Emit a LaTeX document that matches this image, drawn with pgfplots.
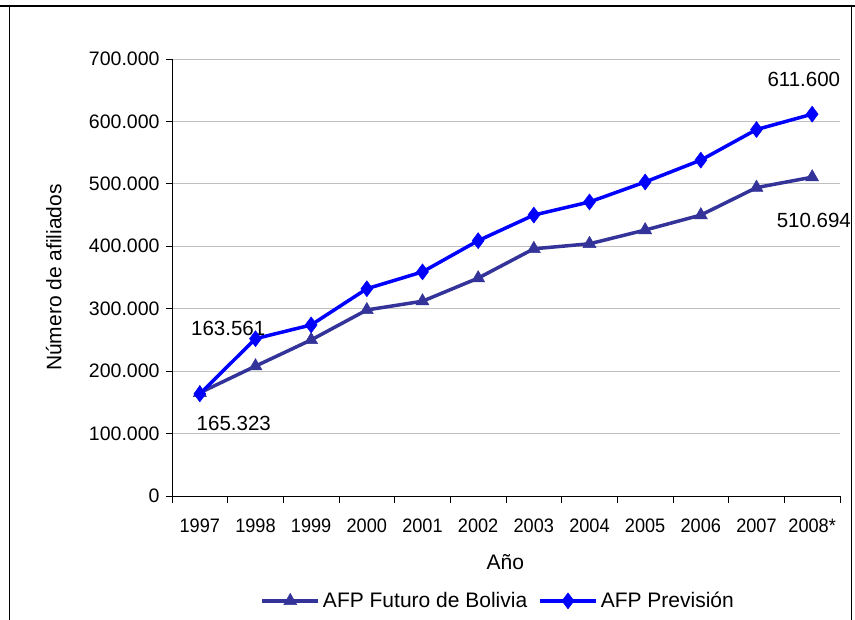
\documentclass[border=0pt]{standalone}
\usepackage{pgfplots}
\pgfplotsset{compat=1.18}
\usepackage{fontspec}
\setmainfont{Liberation Sans}
\newfontfamily\xtfont{Liberation Sans}[FakeStretch=0.93]
\definecolor{futuro}{RGB}{51,51,153}
\definecolor{prev}{RGB}{0,0,255}
\definecolor{gridc}{RGB}{192,192,192}
\begin{document}
\begin{tikzpicture}[x=1pt,y=1pt]
\useasboundingbox (0,0) rectangle (855,620);
\draw[line width=1.2pt] (0,614) -- (855,614);
\draw[line width=0.8pt] (9,614) -- (9,-5);
\draw[line width=0.8pt] (851,614) -- (851,-5);
\begin{axis}[
  at={(172pt,124pt)}, anchor=south west,
  scale only axis, width=668pt, height=437pt,
  xmin=-0.5, xmax=11.5, ymin=0, ymax=700000,
  scaled y ticks=false,
  axis x line*=bottom, axis y line*=left,
  axis line style={black, line width=0.8pt},
  xtick={0,...,11},
  xticklabels={1997,1998,1999,2000,2001,2002,2003,2004,2005,2006,2007,2008*},
  minor xtick={-0.5,0.5,...,11.5},
  major x tick style={draw=none},
  minor tick length=7pt,
  tick align=outside,
  ytick={0,100000,...,700000},
  yticklabels={0,100.000,200.000,300.000,400.000,500.000,600.000,700.000},
  major tick length=6pt,
  tick style={black, line width=0.8pt},
  ymajorgrids, grid style={gridc, line width=0.8pt},
  yticklabel style={font=\fontsize{19.5}{23}\selectfont, xshift=-3pt},
  xticklabel style={font=\xtfont\fontsize{19.5}{23}\selectfont, anchor=center, yshift=-24pt},
  ylabel={Número de afiliados},
  xlabel={Año},
  label style={font=\fontsize{21}{25}\selectfont},
  ylabel style={at={(axis description cs:-0.177,0.5)}, anchor=center, rotate=0},
  xlabel style={at={(axis description cs:0.499,-0.151)}, anchor=center},
  clip=false,
  legend columns=2,
  legend style={draw=none, fill=none, font=\fontsize{21}{25}\selectfont, at={(axis description cs:0.489,-0.240)}, anchor=center,
    /tikz/every even column/.append style={column sep=8pt},
    nodes={inner xsep=3pt, inner ysep=0pt}},
  legend image code/.code={\draw[#1] (0pt,0pt) -- (56pt,0pt); \draw[#1, mark repeat=2, mark phase=2] plot coordinates {(0pt,0pt) (28pt,0pt) (56pt,0pt)};},
]
\addplot[futuro, line width=3.5pt, mark=triangle*, mark size=7.5pt, mark options={solid, line width=0.5pt}] coordinates {
(0,165323) (1,208000) (2,250000) (3,298000) (4,312000) (5,349000) (6,396000) (7,404000) (8,426000) (9,450000) (10,494000) (11,510694)};
\addlegendentry{AFP Futuro de Bolivia}
\addplot[prev, line width=3.5pt, mark=diamond*, mark size=8pt, mark options={solid, line width=0.5pt}] coordinates {
(0,163561) (1,252000) (2,274000) (3,332000) (4,359000) (5,409000) (6,450000) (7,471000) (8,503000) (9,538000) (10,587000) (11,611600)};
\addlegendentry{AFP Previsión}
\node[font=\fontsize{20.5}{24}\selectfont] at (axis cs:10.85,666700) {611.600};
\node[font=\fontsize{20.5}{24}\selectfont] at (axis cs:11.03,441500) {510.694};
\node[font=\fontsize{20.5}{24}\selectfont] at (axis cs:0.51,269000) {163.561};
\node[font=\fontsize{20.5}{24}\selectfont] at (axis cs:0.61,116500) {165.323};
\end{axis}
\end{tikzpicture}
\end{document}
